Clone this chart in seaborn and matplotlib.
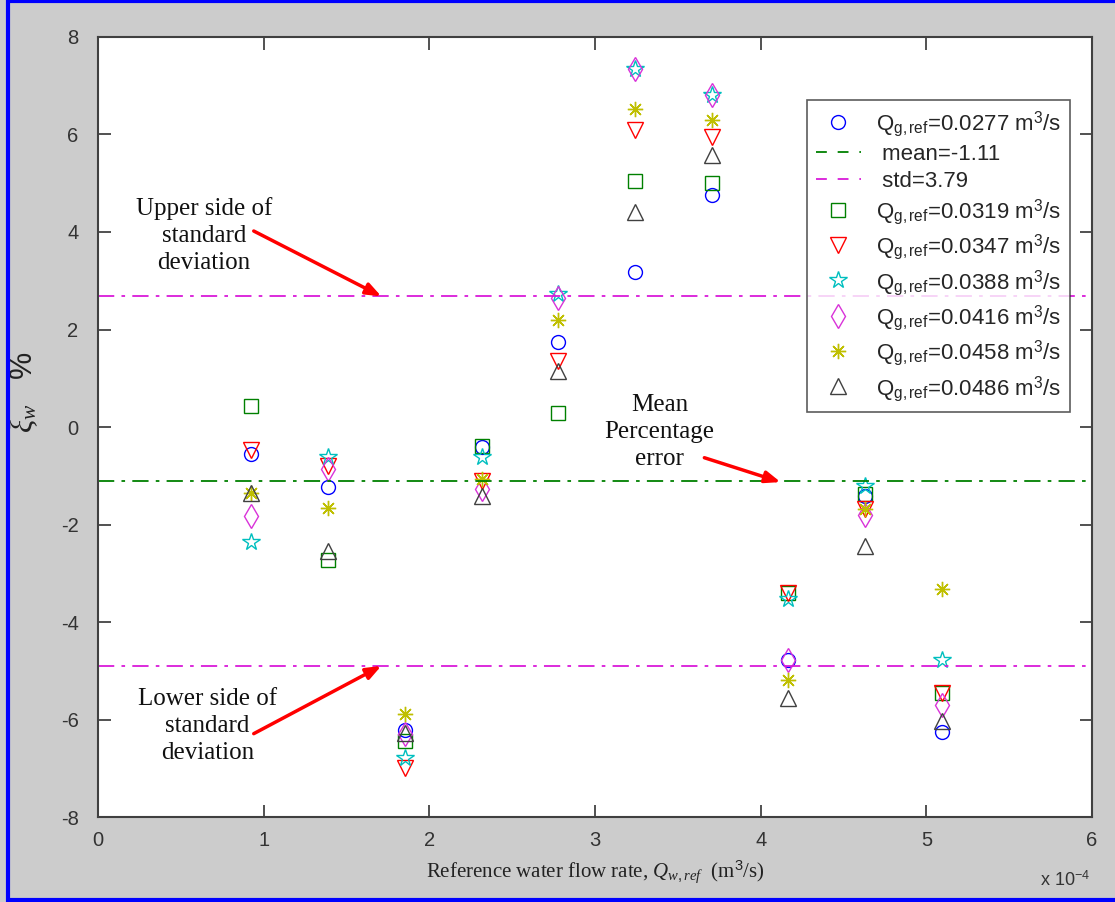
import numpy as np
import pandas as pd
import matplotlib
matplotlib.use('Agg')
import matplotlib.pyplot as plt
from matplotlib.lines import Line2D
import seaborn as sns

# reference water flow rate, in units of 1e-4 m^3/s
q_w = [0.926, 1.389, 1.852, 2.315, 2.778, 3.241, 3.704, 4.167, 4.630, 5.093]

# percentage error for each gas flow rate
err_0277 = [-0.55, -1.24, -6.22, -0.42, 1.75, 3.18, 4.76, -4.78, -1.42, -6.25]
err_0319 = [0.44, -2.73, -6.45, -0.38, 0.28, 5.05, 5.00, -3.40, -1.37, -5.45]
err_0347 = [-0.48, -0.80, -7.00, -1.10, 1.35, 6.10, 5.95, -3.40, -1.68, -5.45]
err_0388 = [-2.35, -0.62, -6.78, -0.62, 2.72, 7.35, 6.80, -3.52, -1.20, -4.78]
err_0416 = [-1.83, -0.86, -6.29, -1.27, 2.65, 7.35, 6.80, -4.78, -1.80, -5.70]
err_0458 = [-1.36, -1.67, -5.88, -1.07, 2.20, 6.52, 6.30, -5.18, -1.68, -3.33]
err_0486 = [-1.35, -2.55, -6.27, -1.42, 1.15, 4.42, 5.58, -5.55, -2.45, -6.02]

mean_err = -1.11
std_err = 3.79

sns.set_style('ticks')
plt.rcParams['font.family'] = ['Liberation Sans', 'DejaVu Sans']
plt.rcParams['mathtext.fontset'] = 'custom'
plt.rcParams['mathtext.rm'] = 'Liberation Sans'
plt.rcParams['mathtext.sf'] = 'Liberation Sans'
plt.rcParams['mathtext.it'] = 'Liberation Serif:italic'
plt.rcParams['axes.unicode_minus'] = False

fig = plt.figure(figsize=(11.15, 9.02), dpi=100, facecolor='#cccccc')
ax = fig.add_axes([0.0879, 0.0942, 0.8915, 0.8648])
ax.set_facecolor('white')

series = [
    ('0.0277', err_0277, 'o', (0, 0, 1), 10),
    ('0.0319', err_0319, 's', (0, 0.5, 0), 10),
    ('0.0347', err_0347, 'v', (1, 0, 0), 11),
    ('0.0388', err_0388, '*', (0, 0.75, 0.75), 13),
    ('0.0416', err_0416, 'd', (0.85, 0.2, 0.85), 12),
    ('0.0458', err_0458, (8, 2, 0), (0.75, 0.75, 0), 11),
    ('0.0486', err_0486, '^', (0.25, 0.25, 0.25), 11),
]

handles = {}
for name, vals, mk, col, size in series:
    df = pd.DataFrame({'q': q_w, 'err': vals})
    sns.lineplot(data=df, x='q', y='err', ax=ax, linestyle='', marker=mk,
                 markersize=size, markerfacecolor='none', markeredgecolor=col,
                 markeredgewidth=1.0, color=col, label=None)
    handles[name] = Line2D([], [], linestyle='', marker=mk, markersize=size,
                           markerfacecolor='none', markeredgecolor=col, markeredgewidth=1.0)

dash = (0, (9, 4, 2, 4))
ax.axhline(mean_err, color=(0, 0.5, 0), lw=1.3, linestyle=dash)
ax.axhline(mean_err + std_err, color=(0.85, 0.1, 0.85), lw=1.3, linestyle=dash)
ax.axhline(mean_err - std_err, color=(0.85, 0.1, 0.85), lw=1.3, linestyle=dash)
h_mean = Line2D([], [], color=(0, 0.5, 0), lw=1.3, linestyle=(0, (6, 6)))
h_std = Line2D([], [], color=(0.85, 0.1, 0.85), lw=1.3, linestyle=(0, (6, 6)))

def qlabel(v):
    return r'Q$_{\mathrm{g,ref}}$=' + v + r' m$^{\mathrm{3}}$/s'

leg_handles = [handles['0.0277'], h_mean, h_std] + [handles[k] for k in
               ['0.0319', '0.0347', '0.0388', '0.0416', '0.0458', '0.0486']]
leg_labels = [qlabel('0.0277'), ' mean=-1.11', ' std=3.79'] + [qlabel(k) for k in
              ['0.0319', '0.0347', '0.0388', '0.0416', '0.0458', '0.0486']]
leg = ax.legend(leg_handles, leg_labels, loc='upper right',
                bbox_to_anchor=(1070 / 1115, 1 - 100 / 902), bbox_transform=fig.transFigure,
                fontsize=16, frameon=True, fancybox=False, edgecolor='#333333',
                handlelength=2.0, labelspacing=0.24, borderpad=0.4, handletextpad=0.7,
                borderaxespad=0)
leg.get_frame().set_linewidth(1.2)

ax.set_xlim(0, 6)
ax.set_ylim(-8, 8)
ax.set_xticks(range(0, 7))
ax.set_yticks(range(-8, 9, 2))
ax.tick_params(direction='in', length=9, width=1.2, top=True, right=True,
               labelsize=14.5, colors='#333333')
ax.tick_params(axis='y', pad=14)
ax.tick_params(axis='x', pad=10)
for s in ax.spines.values():
    s.set_visible(True)
    s.set_color('#404040')
    s.set_linewidth(1.5)

ax.set_xlabel(r'Reference water flow rate, $Q_{w,ref}$  (m$^3$/s)',
              family='Liberation Serif', fontsize=15, color='#222222', labelpad=6)
ax.set_ylabel(r'$\mathit{ξ}_{w}$   %', fontsize=22, color='#222222')
ax.yaxis.set_label_coords(-0.058, 0.545)
fig.text(1040 / 1115, 1 - 880 / 902, r'x 10$^{\mathrm{-4}}$', fontsize=13, color='#333333',
         ha='left', va='center')

red = dict(arrowstyle='-|>,head_length=0.9,head_width=0.35', color='red', lw=2.5,
           shrinkA=0, shrinkB=0)
serif = dict(family='Liberation Serif', fontsize=18, ha='center', va='center',
             linespacing=1.3, color='#111111')
ax.annotate('', xy=(1.71, 2.68), xytext=(0.94, 4.02), arrowprops=red)
ax.text(0.64, 3.92, 'Upper side of\nstandard\ndeviation', **serif)
ax.annotate('', xy=(4.12, -1.13), xytext=(3.66, -0.63), arrowprops=red)
ax.text(3.39, -0.1, 'Mean\nPercentage\nerror', **serif)
ax.annotate('', xy=(1.71, -4.9), xytext=(0.94, -6.29), arrowprops=red)
ax.text(0.66, -6.14, 'Lower side of\nstandard\ndeviation', **serif)

# blue frame around the window
for xs, ys in [([8, 8], [0, 902]), ([8, 1115], [1, 1]), ([8, 1115], [900, 900])]:
    fig.add_artist(Line2D([x / 1115 for x in xs], [1 - y / 902 for y in ys],
                          color='blue', lw=3))

fig.savefig('out.png', dpi=100, facecolor=fig.get_facecolor())
